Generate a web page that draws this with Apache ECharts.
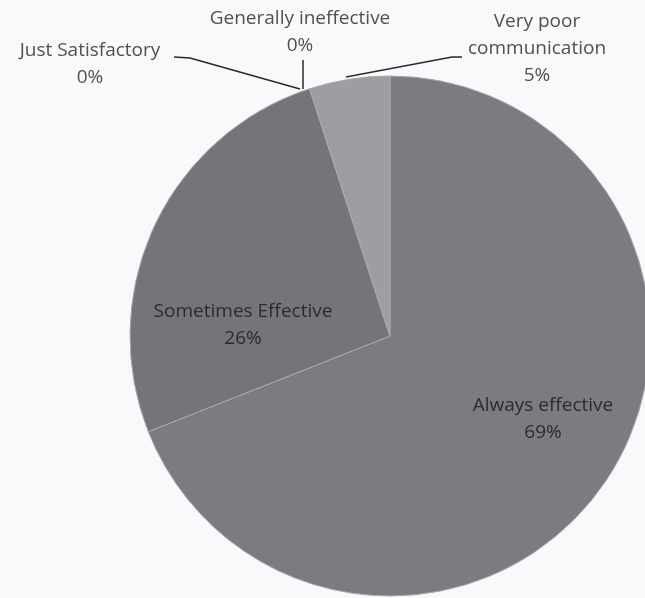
<!DOCTYPE html>
<html>
<head>
<meta charset="utf-8">
<script src="https://cdn.jsdelivr.net/npm/echarts@6/dist/echarts.min.js"></script>
<style>
html,body{margin:0;padding:0;background:#fbf8fb;}
#chart{width:645px;height:598px;}
</style>
</head>
<body>
<div id="chart"></div>
<script>
// ---- data ----
const categories = ['Always effective', 'Sometimes Effective', 'Just Satisfactory', 'Generally ineffective', 'Very poor communication'];
const labelNames = ['Always effective', 'Sometimes Effective', 'Just Satisfactory', 'Generally ineffective', 'Very poor\ncommunication'];
const values = [69, 26, 0, 0, 5];

// ---- styles ----
const sliceColors = ['#7b7b81', '#747479', '#76767b', '#76767b', '#9e9ea2'];
const labelSpots = [
  {x: 543, y: 419, color: '#2b2b36'},
  {x: 243, y: 325, color: '#2b2b36'},
  {x: 90, y: 64, color: '#505050'},
  {x: 300, y: 32, color: '#505050'},
  {x: 537, y: 49, color: '#505050'}
];
const linePts = [
  null, null,
  [[300, 89], [190, 58], [174, 57]],
  [[303, 89], [303, 75], [303, 60]],
  [[346, 77], [452, 57], [462, 57]]
];

const chart = echarts.init(document.getElementById('chart'), null, {renderer: 'canvas'});
chart.setOption({
  backgroundColor: '#fbf8fb',
  animation: false,
  series: [{
    type: 'pie',
    center: [390, 336],
    radius: 260,
    startAngle: 90,
    clockwise: true,
    avoidLabelOverlap: false,
    silent: true,
    itemStyle: {borderColor: '#a9a9ad', borderWidth: 1},
    label: {
      show: true,
      position: 'outside',
      fontFamily: 'Open Sans',
      fontSize: 19,
      lineHeight: 27,
      align: 'center',
      formatter: p => labelNames[p.dataIndex] + '\n' + p.percent + '%'
    },
    labelLine: {show: true, lineStyle: {color: '#2a2a2a', width: 1.5}},
    labelLayout: p => {
      const s = labelSpots[p.dataIndex];
      const r = {x: s.x, y: s.y, align: 'center', verticalAlign: 'middle'};
      if (linePts[p.dataIndex]) r.labelLinePoints = linePts[p.dataIndex];
      return r;
    },
    data: categories.map((c, i) => ({
      name: c,
      value: values[i],
      itemStyle: {color: sliceColors[i]},
      label: {color: labelSpots[i].color},
      labelLine: {show: !!linePts[i]}
    }))
  }]
});
</script>
</body>
</html>
